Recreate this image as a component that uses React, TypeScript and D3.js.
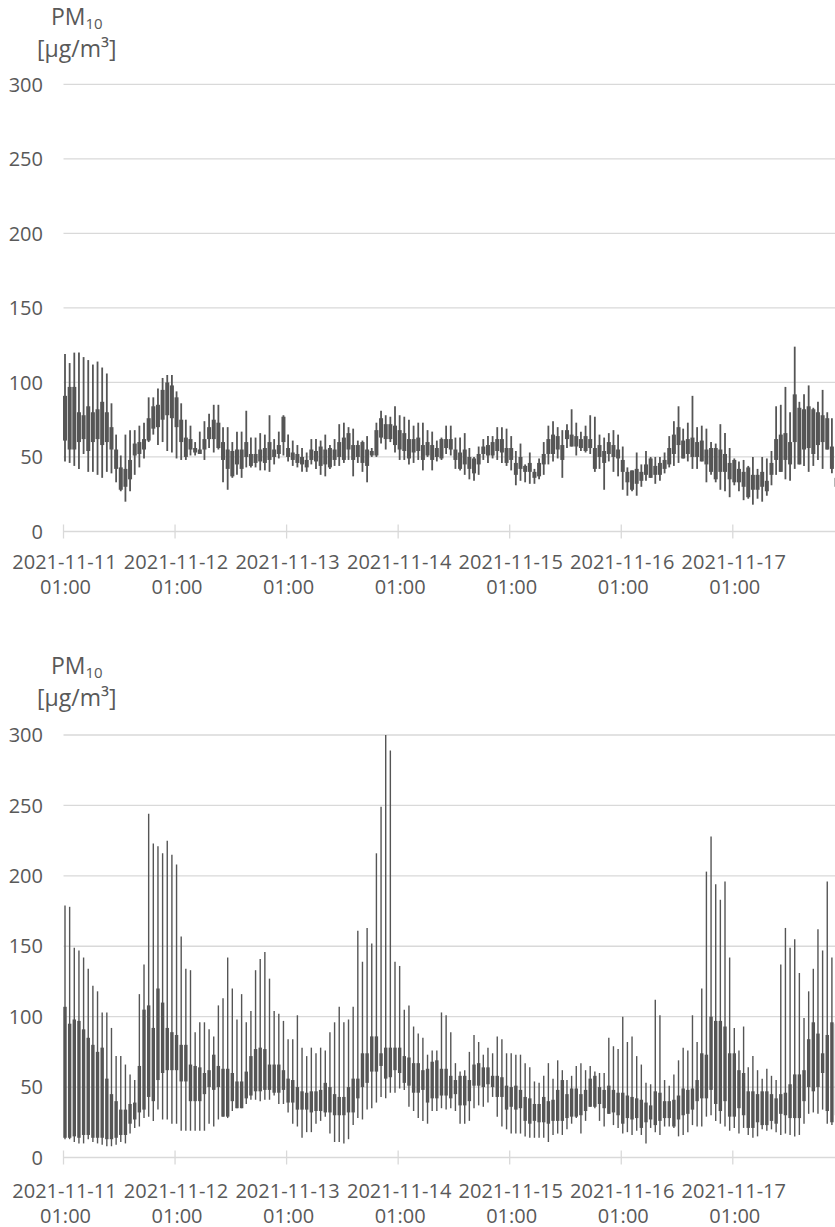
import React from "react";
import * as d3 from "d3";

const yTicks = [0, 50, 100, 150, 200, 250, 300];
const dateLabels = ["2021-11-11", "2021-11-12", "2021-11-13", "2021-11-14", "2021-11-15", "2021-11-16", "2021-11-17"];
const timeLabel = "01:00";

// Panel 1 (upper) hourly high / low / open / close, PM10 µg/m³
const topHigh = [119,113,120,120,117,115,112,114,110,106,86,65,51,65,68,68,71,73,90,90,96,103,105,105,94,86,75,71,60,67,74,79,85,85,70,70,60,67,67,81,63,63,66,65,78,62,67,78,65,61,58,56,53,62,62,61,65,58,62,72,73,70,69,61,61,64,56,73,81,78,77,84,78,77,75,71,73,73,68,67,61,63,71,71,63,63,66,56,50,57,62,64,64,70,70,69,64,54,59,45,53,42,49,60,71,74,70,68,72,82,73,67,71,78,77,65,63,66,68,65,57,43,41,53,45,54,50,50,50,53,64,74,84,69,73,91,70,71,69,60,59,72,66,56,49,47,48,44,50,42,50,49,54,84,85,97,80,124,87,92,98,83,87,95,80,76,40];
const topLow = [47,46,44,42,52,40,40,38,36,40,39,33,27,20,27,38,43,49,60,65,58,60,54,53,49,48,48,51,51,52,48,56,53,55,33,28,36,38,36,43,43,43,41,41,40,45,49,51,47,44,43,40,40,45,42,38,37,42,44,44,46,48,37,46,40,33,50,50,59,55,60,53,48,48,45,46,48,41,50,41,47,48,52,51,42,41,38,35,34,38,48,46,49,48,46,44,41,31,34,33,32,32,35,38,45,47,49,36,56,57,51,54,53,52,40,42,28,47,40,37,28,24,27,24,30,34,36,32,34,39,43,44,46,49,47,42,42,47,33,38,33,28,27,23,31,27,21,22,18,22,20,24,31,38,40,35,34,42,45,44,40,44,48,42,55,39,26];
const topOpen = [91,97,97,80,78,84,80,82,87,80,70,55,43,42,48,59,60,62,76,84,85,95,100,98,90,75,63,62,56,55,62,70,75,73,60,55,54,55,55,60,52,52,55,56,60,55,58,77,56,53,52,50,48,55,54,57,55,56,55,60,63,66,58,58,60,55,54,68,76,72,72,71,68,66,62,62,63,58,60,58,56,62,62,62,55,53,55,50,49,52,57,58,60,62,62,56,56,46,50,44,46,40,46,52,62,65,64,58,68,65,64,62,64,62,56,58,54,60,58,55,48,40,41,42,40,45,49,44,46,48,56,65,70,61,62,63,60,61,55,56,56,55,52,46,48,42,40,43,38,38,40,34,46,62,65,66,60,92,83,82,84,82,80,78,76,57,36];
const topClose = [61,55,55,60,62,54,60,62,58,60,55,42,28,30,35,51,52,55,61,69,70,75,78,76,70,60,50,55,53,52,55,62,62,56,48,42,37,45,42,50,44,46,47,46,48,50,52,60,50,48,46,45,43,48,47,44,45,43,48,50,48,55,48,50,46,44,51,51,63,62,62,58,55,54,49,53,54,48,51,48,50,49,56,55,48,42,45,42,39,45,52,51,51,54,53,46,48,38,42,40,40,36,37,45,52,52,55,48,62,57,57,56,54,56,42,50,46,52,50,49,40,33,28,32,34,38,36,38,38,42,45,52,58,49,52,50,50,47,45,40,35,40,40,35,33,33,30,23,28,28,30,27,38,48,40,48,45,60,45,55,56,52,58,60,55,42,30];

// Panel 2 (lower)
const botHigh = [179,178,149,147,142,134,122,118,103,103,92,72,72,66,59,55,116,137,244,223,221,216,225,215,208,157,134,133,89,96,96,91,86,108,113,142,120,98,116,96,104,133,141,146,127,104,102,97,84,84,101,78,72,78,74,78,76,89,96,107,96,98,107,161,139,163,152,216,249,300,289,139,136,105,108,93,88,85,73,76,76,103,101,89,67,61,62,75,87,82,73,78,74,86,84,74,74,73,73,67,64,54,53,58,67,56,69,62,55,58,65,67,62,65,61,60,60,85,79,77,100,82,86,72,66,53,52,112,101,55,51,59,69,78,76,101,82,120,203,228,194,183,196,142,92,76,93,64,72,62,56,63,58,55,137,163,149,155,131,99,118,134,162,147,196,142,150];
const botLow = [13,13,11,10,10,13,11,10,9,8,8,9,11,10,17,21,22,28,29,26,34,27,27,24,24,19,19,19,19,19,19,24,22,27,29,28,33,35,35,38,41,41,40,41,41,44,38,38,32,24,22,14,18,18,24,26,29,17,11,11,10,13,23,28,27,34,35,39,43,42,46,46,49,48,36,33,28,26,24,33,33,35,34,35,33,24,24,26,35,37,36,39,43,29,22,20,17,17,17,15,14,14,14,14,11,16,17,16,20,24,28,17,26,36,35,26,22,31,23,21,17,18,16,19,16,10,21,18,16,22,22,21,15,16,18,23,22,22,29,30,26,24,22,19,21,17,21,16,14,15,20,19,20,18,16,17,16,15,16,24,31,32,31,34,24,23,25];
const botOpen = [107,95,98,97,91,85,80,75,78,56,45,40,34,34,38,39,65,105,108,92,120,110,92,89,87,80,80,66,65,64,60,62,73,65,63,63,60,54,54,61,72,77,78,77,66,66,66,62,56,55,50,47,46,47,47,48,53,50,45,43,43,50,56,56,74,74,86,86,74,78,78,78,78,72,71,67,67,62,63,68,69,63,63,58,55,58,58,55,66,67,64,64,58,58,57,51,50,51,48,43,42,38,38,43,40,41,48,55,45,49,49,45,48,56,58,50,48,51,48,46,46,44,43,42,41,39,37,47,46,40,40,41,44,49,48,49,55,74,73,100,97,97,93,74,74,62,60,47,47,45,47,47,45,42,45,46,52,59,59,62,84,96,88,74,87,96,95];
const botClose = [14,14,15,14,16,16,14,14,14,13,13,14,16,16,24,27,32,34,43,40,55,60,62,62,62,54,54,40,40,40,45,50,48,50,29,29,40,35,35,42,44,47,47,48,48,46,46,48,39,39,34,34,34,32,33,33,32,32,30,30,30,32,32,42,50,53,61,61,65,56,57,62,60,53,51,46,46,48,39,42,42,44,44,42,45,37,37,40,51,51,50,52,50,43,43,34,36,34,35,26,24,26,25,25,24,26,26,26,28,29,29,30,33,36,36,38,35,31,32,30,24,28,27,28,21,25,27,23,26,28,28,22,27,30,31,34,40,42,42,48,38,33,40,29,29,35,30,21,21,25,23,23,26,24,31,30,28,28,28,40,50,47,50,60,33,25,30];

const FONT = "'Open Sans', 'Liberation Sans', sans-serif";
const TEXT = "#595959";
const GRID = "#d9d9d9";
const INK = "#555555";

const xScale = d3.scaleLinear().domain([0, 168]).range([63.5, 63.5 + 7 * 111.55]);

type PanelProps = {
  high: number[]; low: number[]; open: number[]; close: number[];
  yBottom: number; yTop: number; wick: number; body: number;
  titleY: number; dateY: number; timeY: number;
};

function Panel(p: PanelProps) {
  const y = d3.scaleLinear().domain([0, 300]).range([p.yBottom, p.yTop]);
  const xTicks = d3.range(0, 168, 24);
  return (
    <g>
      <text x={51} y={p.titleY} fontFamily={FONT} fontSize={23} fill={TEXT}>
        PM<tspan fontSize={15} dy={4}>10</tspan>
      </text>
      <text x={37} y={p.titleY + 32} fontFamily={FONT} fontSize={23} fill={TEXT}>[µg/m³]</text>
      {yTicks.map((t) => (
        <g key={t}>
          {t > 0 && <line x1={63.5} x2={835} y1={y(t)} y2={y(t)} stroke={GRID} strokeWidth={1.3} />}
          <text x={43} y={y(t)} dy="0.36em" textAnchor="end" fontFamily={FONT} fontSize={20} fill={TEXT}>{t}</text>
        </g>
      ))}
      <line x1={63.5} x2={835} y1={y(0)} y2={y(0)} stroke={GRID} strokeWidth={1.3} />
      {xTicks.map((t, k) => (
        <g key={t}>
          <line x1={xScale(t)} x2={xScale(t)} y1={y(0) - 7} y2={y(0) + 7} stroke={GRID} strokeWidth={1.3} />
          <text x={xScale(t) + 1} y={p.dateY} textAnchor="middle" fontFamily={FONT} fontSize={20} fill={TEXT}>{dateLabels[k]}</text>
          <text x={xScale(t) + 2} y={p.timeY} textAnchor="middle" fontFamily={FONT} fontSize={20} fill={TEXT}>{timeLabel}</text>
        </g>
      ))}
      {p.high.map((h, i) => {
        const cx = xScale(i) + 1.5;
        const o = p.open[i];
        const c = p.close[i];
        const top = y(Math.max(o, c));
        const bot = y(Math.min(o, c));
        return (
          <g key={i}>
            <line x1={cx} x2={cx} y1={y(h)} y2={y(p.low[i])} stroke={INK} strokeWidth={p.wick} />
            <rect x={cx - p.body / 2} y={top} width={p.body} height={Math.max(1, bot - top)} fill={INK} />
          </g>
        );
      })}
    </g>
  );
}

export default function App() {
  return (
    <svg width={835} height={1227} style={{ position: "absolute", left: 0, top: 0, background: "#fff" }}>
      <rect width={835} height={1227} fill="#fff" />
      <Panel high={topHigh} low={topLow} open={topOpen} close={topClose}
        yBottom={531.5} yTop={84.3} wick={1.8} body={4}
        titleY={25} dateY={569} timeY={594} />
      <Panel high={botHigh} low={botLow} open={botOpen} close={botClose}
        yBottom={1157.5} yTop={735} wick={1.4} body={3.4}
        titleY={674} dateY={1198} timeY={1223} />
    </svg>
  );
}
